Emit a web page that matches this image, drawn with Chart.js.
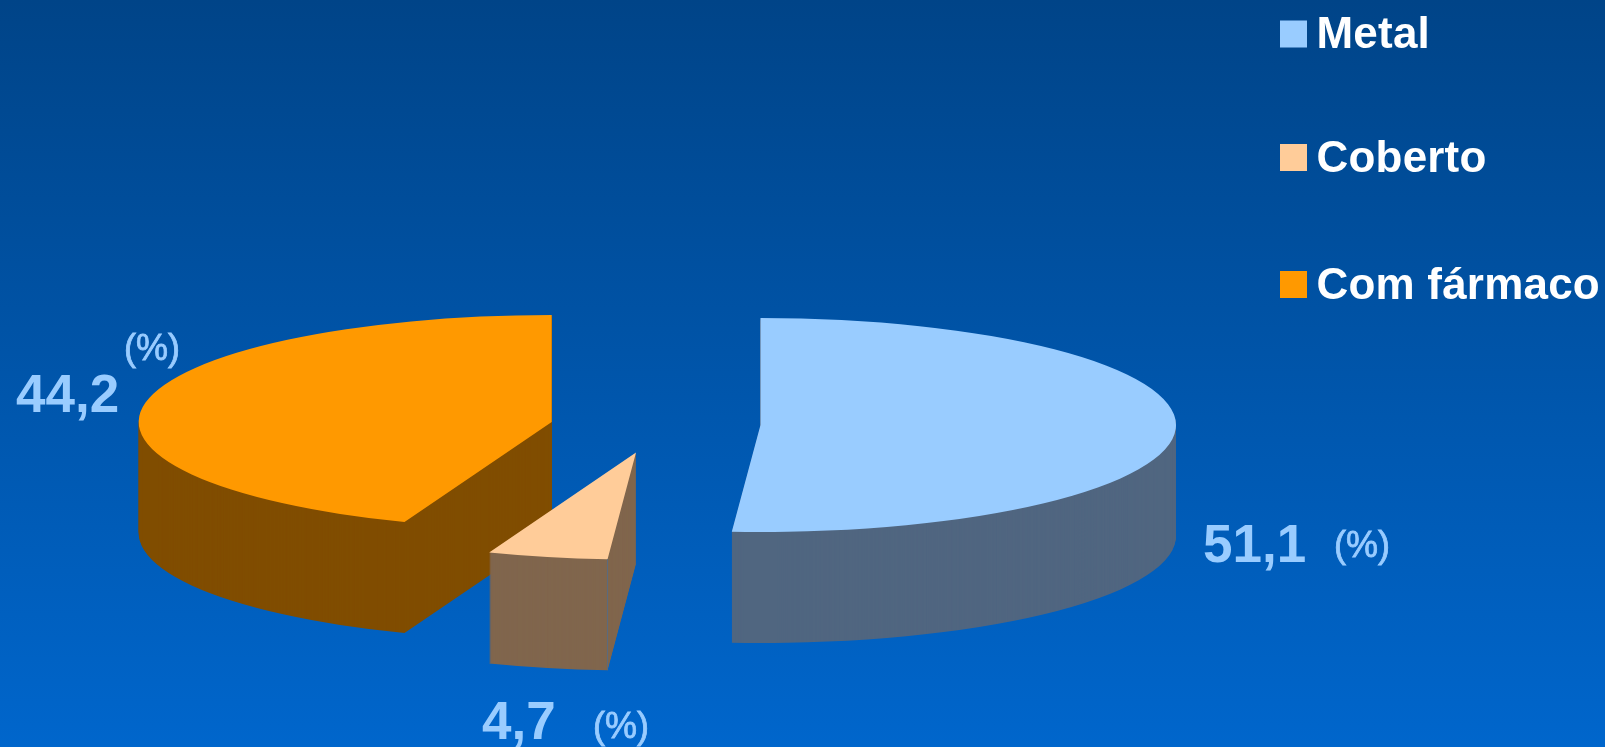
<!DOCTYPE html>
<html>
<head>
<meta charset="utf-8">
<title>Stents</title>
<script src="https://cdn.jsdelivr.net/npm/chart.js@4/dist/chart.umd.min.js"></script>
<style>
  html, body { margin: 0; padding: 0; }
  body { width: 1605px; height: 747px; overflow: hidden; background: linear-gradient(#004488, #0066cc); }
  canvas { display: block; }
</style>
</head>
<body>
<canvas id="chart" width="1605" height="747"></canvas>
<script>
const categories = ['Metal', 'Coberto', 'Com fármaco'];
const percentages = [51.1, 4.7, 44.2];

const topColors = ['#99ccff', '#ffcc99', '#ff9900'];
const wallColors = ['#506680', '#80664d', '#804d00'];

// exploded 3D look: each slice has its own apex on screen
const sliceApex = [[760.5, 425], [636, 452.5], [551.7, 422]];
const sliceRadiusX = [415.5, 412, 413];
const sliceRadiusY = 107;
const sliceDepth = 111;

const labelFont = 'bold 53px "Liberation Sans"';
const unitFont = '36px "Liberation Sans"';
const labelPos = [[1203, 562, 1334, 557], [482, 739, 593, 738], [16, 412, 124, 360]];

const legendFont = 'bold 44px "Liberation Sans"';
const legendBaseline = [48, 171.5, 298.5];

const fakePie3d = {
  id: 'fakePie3d',
  beforeDatasetsDraw(chart) {
    const ctx = chart.ctx;
    const arcs = chart.getDatasetMeta(0).data;
    [2, 1, 0].forEach((i) => {
      const arc = arcs[i];
      const sx = sliceRadiusX[i] / arc.outerRadius;
      const sy = sliceRadiusY / arc.outerRadius;
      const place = (down) => {
        ctx.save();
        ctx.translate(sliceApex[i][0], sliceApex[i][1] + down);
        ctx.scale(sx, sy);
        ctx.translate(-arc.x, -arc.y);
        arc.draw(ctx);
        ctx.restore();
      };
      const topOptions = arc.options;
      arc.options = Object.assign(Object.create(topOptions), { backgroundColor: wallColors[i] });
      for (let down = sliceDepth; down > 0; down--) {
        place(down);
      }
      arc.options = topOptions;
      place(0);
    });

    // thin edge between the two visible walls of the small slice
    const small = arcs[1];
    const ex = sliceApex[1][0] + sliceRadiusX[1] * Math.cos(small.startAngle);
    const ey = sliceApex[1][1] + sliceRadiusY * Math.sin(small.startAngle);
    ctx.save();
    ctx.strokeStyle = '#5a6a80';
    ctx.lineWidth = 1;
    ctx.beginPath();
    ctx.moveTo(ex, ey);
    ctx.lineTo(ex, ey + sliceDepth);
    ctx.stroke();
    ctx.restore();
    return false;
  },
  afterDraw(chart) {
    const ctx = chart.ctx;
    ctx.save();
    ctx.textBaseline = 'alphabetic';
    ctx.textAlign = 'left';

    // value labels
    ctx.fillStyle = '#99ccff';
    ctx.strokeStyle = '#99ccff';
    ctx.lineWidth = 0.8;
    percentages.forEach((value, i) => {
      const p = labelPos[i];
      ctx.font = labelFont;
      ctx.fillText(value.toFixed(1).replace('.', ','), p[0], p[1]);
      ctx.font = unitFont;
      ctx.fillText('(%)', p[2], p[3]);
      ctx.strokeText('(%)', p[2], p[3]);
    });

    // legend, the built-in one has a too wide gap after the box
    const items = chart.options.plugins.legend.labels.generateLabels(chart);
    ctx.letterSpacing = '0.2px';
    items.forEach((item, i) => {
      ctx.fillStyle = item.fillStyle;
      ctx.fillRect(1280, legendBaseline[i] - 27.5, 27, 27);
      ctx.fillStyle = '#ffffff';
      ctx.font = legendFont;
      ctx.fillText(item.text, 1316.5, legendBaseline[i]);
    });
    ctx.restore();
  },
};

const chart = new Chart(document.getElementById('chart'), {
  type: 'pie',
  data: {
    labels: categories,
    datasets: [{
      data: percentages,
      backgroundColor: topColors,
      borderWidth: 0,
    }],
  },
  options: {
    responsive: false,
    animation: false,
    plugins: {
      legend: { display: false },
      tooltip: { enabled: false },
    },
  },
  plugins: [fakePie3d],
});
</script>
</body>
</html>
